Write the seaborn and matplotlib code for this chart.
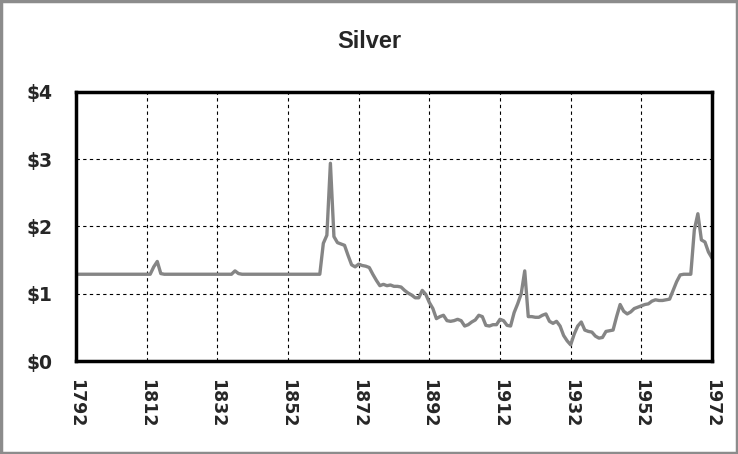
import numpy as np
import pandas as pd
import matplotlib
matplotlib.use("Agg")
import matplotlib.pyplot as plt
import seaborn as sns
from matplotlib.ticker import MultipleLocator

years = list(range(1792, 1973))

early = [1.29] * 21                              # 1792-1812
bump1 = [1.29, 1.40, 1.48, 1.30]                  # 1813-1816
mid1 = [1.29] * 20                                # 1817-1836
bump2 = [1.34, 1.30]                              # 1837-1838
mid2 = [1.29] * 23                                # 1839-1861
civil_war = [1.75, 1.87, 2.94, 1.85, 1.76, 1.74, 1.72, 1.57, 1.43, 1.40]   # 1862-1871
decline = [1.44, 1.42, 1.41, 1.39, 1.29, 1.20, 1.12, 1.14, 1.12, 1.13,     # 1872-1881
           1.11, 1.11, 1.10, 1.05, 1.01, 0.98, 0.94, 0.94, 1.05, 0.99,     # 1882-1891
           0.87, 0.78, 0.63, 0.66, 0.68, 0.60, 0.59, 0.60, 0.62, 0.60,     # 1892-1901
           0.52, 0.54, 0.58, 0.61, 0.68, 0.66, 0.53, 0.52, 0.54, 0.54]     # 1902-1911
modern = [0.62, 0.60, 0.53, 0.52, 0.72, 0.85, 1.00, 1.34, 0.66, 0.66,      # 1912-1921
          0.65, 0.65, 0.68, 0.70, 0.59, 0.56, 0.59, 0.52, 0.38, 0.30,      # 1922-1931
          0.24, 0.40, 0.52, 0.58, 0.46, 0.44, 0.43, 0.37, 0.34, 0.35,      # 1932-1941
          0.44, 0.45, 0.46, 0.66, 0.84, 0.74, 0.70, 0.73, 0.78, 0.80,      # 1942-1951
          0.82, 0.84, 0.85, 0.89, 0.91, 0.90, 0.90, 0.91, 0.92, 1.05,      # 1952-1961
          1.18, 1.28, 1.29, 1.29, 1.29, 1.95, 2.19, 1.80, 1.77, 1.62,      # 1962-1971
          1.53]                                                            # 1972
prices = early + bump1 + mid1 + bump2 + mid2 + civil_war + decline + modern

x_tick_labels = [str(y) for y in range(1792, 1973, 20)]
y_tick_labels = ["$0", "$1", "$2", "$3", "$4"]

df = pd.DataFrame({"Year": years, "Price": prices})

sns.set_style("white")
plt.rcParams["font.family"] = ["DejaVu Sans"]

fig = plt.figure(figsize=(7.38, 4.54), dpi=100)
ax = fig.add_axes([76 / 738, 1 - 361 / 454, (712 - 76) / 738, (361 - 92) / 454])

sns.lineplot(data=df, x="Year", y="Price", ax=ax, color="#858585", linewidth=2.4)

ax.set_xlim(1792, 1972)
ax.set_ylim(0, 4)
ax.set_xticks(range(1792, 1973, 20))
ax.set_xticklabels(x_tick_labels, rotation=270, fontsize=12.5, fontweight="bold")
ax.set_yticks(range(0, 5))
ax.set_yticklabels(y_tick_labels, fontsize=13.5, fontweight="bold")
ax.xaxis.set_minor_locator(MultipleLocator(4))
ax.yaxis.set_minor_locator(MultipleLocator(0.5))
ax.tick_params(axis="both", which="major", direction="out", length=6, width=1, color="black")
ax.tick_params(axis="both", which="minor", direction="out", length=4, width=1, color="black")
ax.tick_params(axis="x", which="major", pad=7)
ax.tick_params(axis="y", which="major", pad=11)
ax.set_xlabel("")
ax.set_ylabel("")
ax.grid(True, which="major", color="black", linestyle=(0, (3, 3)), linewidth=0.8)
for s in ax.spines.values():
    s.set_visible(True)
    s.set_color("black")
    s.set_linewidth(2.5)

fig.text(0.5, 1 - 42 / 454, "Silver", ha="center", va="center", fontsize=17,
         fontweight="bold", family="Liberation Sans")

border = plt.Rectangle((0.0015, 0.002), 0.997, 0.996, transform=fig.transFigure,
                       fill=False, edgecolor="#8c8c8c", linewidth=2.5)
fig.patches.append(border)

fig.savefig("out.png", dpi=100)
